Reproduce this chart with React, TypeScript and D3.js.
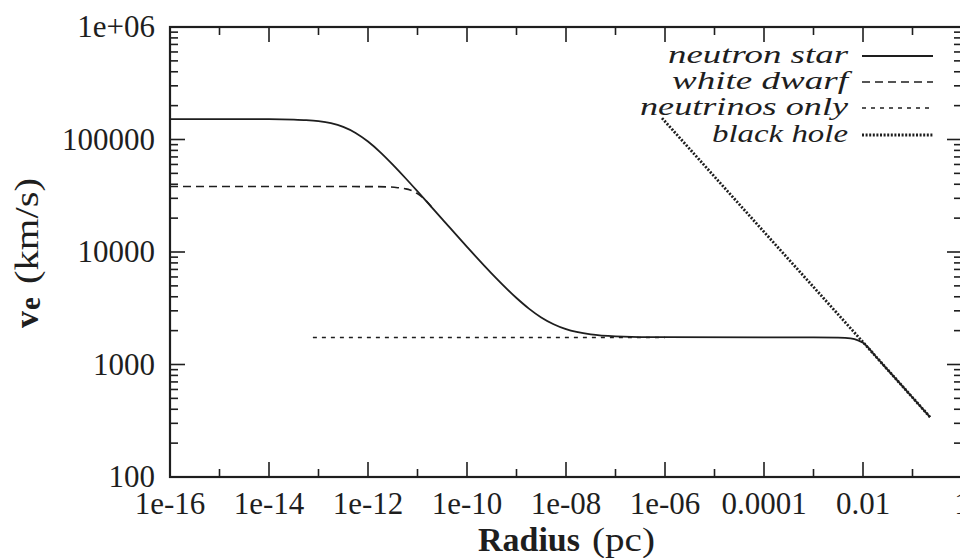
import React from "react";
import * as d3 from "d3";

// ---- data ----
const nsRadius = [1e-16, 1e-14, 3.16e-14, 5.62e-14, 1e-13, 1.78e-13, 3.16e-13, 5.62e-13, 1e-12, 1.78e-12, 3.16e-12, 5.62e-12, 1e-11, 3.16e-11, 1e-10, 3.16e-10, 1e-9, 1.78e-9, 3.16e-9, 5.62e-9, 1e-8, 3.16e-8, 1e-7, 1e-6, 1e-4, 1e-3, 3.16e-3, 5.62e-3, 7.94e-3, 1e-2, 1.78e-2, 3.16e-2, 0.1, 0.226];
const nsVe = [152000, 151700, 150500, 148900, 145700, 139700, 129500, 114400, 95900, 76900, 59800, 45700, 34600, 19600, 11100, 6430, 3900, 3140, 2620, 2280, 2060, 1850, 1780, 1748, 1745, 1745, 1735, 1705, 1640, 1560, 1190, 896, 509, 341];

const wdRadius = [1e-16, 1e-12, 2.5e-12, 3.98e-12, 5.62e-12, 7.08e-12, 8.91e-12, 1.12e-11, 1.41e-11, 2e-11];
const wdVe = [38200, 38150, 37900, 37300, 36500, 35600, 33900, 31900, 29300, 24600];

const nuRadius = [7.7e-14, 1e-10, 1e-6];
const nuVe = [1740, 1740, 1740];

const bhRadius = [8.7e-7, 1e-4, 1e-2, 0.226];
const bhVe = [155000, 15100, 1580, 341];

const xTickExps = [-16, -15, -14, -13, -12, -11, -10, -9, -8, -7, -6, -5, -4, -3, -2, -1, 0];
const xTickLabels = ["1e-16", "1e-14", "1e-12", "1e-10", "1e-08", "1e-06", "0.0001", "0.01", "1"];
const yTickValues = [100, 1000, 10000, 100000, 1000000];
const yTickLabels = ["100", "1000", "10000", "100000", "1e+06"];

const legendNames = ["neutron star", "white dwarf", "neutrinos only", "black hole"];
const legendWidths = [180, 176, 208, 136];

const INK = "#1e1e1e";
const SERIF = "'Liberation Serif', 'DejaVu Serif', serif";

export default function App() {
  const left = 170, right = 962, top = 27, bottom = 477;
  const x = d3.scaleLog().domain([1e-16, 1]).range([left, right]);
  const y = d3.scaleLog().domain([100, 1e6]).range([bottom, top]);

  const mk = (rs: number[], vs: number[]) =>
    d3.line<number>().x((_, i) => x(rs[i])).y((_, i) => y(vs[i])).curve(d3.curveMonotoneX)(rs.map((_, i) => i)) || "";

  const xTicks = xTickExps.map((e) => ({ v: Math.pow(10, e), major: e % 2 === 0 }));
  const yMinor: number[] = [];
  for (let dec = 100; dec < 1e6; dec *= 10) for (let k = 2; k <= 9; k++) yMinor.push(dec * k);

  const seriesStyles = [
    { dash: undefined as string | undefined, w: 1.8 },
    { dash: "8,5", w: 1.6 },
    { dash: "4,5", w: 1.6 },
    { dash: "2,1.6", w: 2.8 },
  ];
  const legendY = [56, 82, 108, 135];

  return (
    <svg width={960} height={558} style={{ position: "absolute", left: 0, top: 0, background: "#fff" }}>
      <rect x={0} y={0} width={960} height={558} fill="#fff" />
      {/* ticks */}
      <g stroke={INK} strokeWidth={1.6}>
        {xTicks.map((t, i) => {
          const len = t.major ? 15 : 8;
          const xx = x(t.v);
          return (
            <g key={"xt" + i}>
              <line x1={xx} x2={xx} y1={bottom} y2={bottom - len} />
              <line x1={xx} x2={xx} y1={top} y2={top + len} />
            </g>
          );
        })}
        {yTickValues.map((v, i) => (
          <g key={"yt" + i}>
            <line x1={left} x2={left + 15} y1={y(v)} y2={y(v)} />
            <line x1={right} x2={right - 15} y1={y(v)} y2={y(v)} />
          </g>
        ))}
        {yMinor.map((v, i) => (
          <g key={"ym" + i}>
            <line x1={left} x2={left + 8} y1={y(v)} y2={y(v)} />
            <line x1={right} x2={right - 8} y1={y(v)} y2={y(v)} />
          </g>
        ))}
      </g>
      {/* frame */}
      <rect x={left} y={top} width={right - left} height={bottom - top} fill="none" stroke={INK} strokeWidth={2.2} />

      {/* tick labels */}
      <g fontFamily={SERIF} fontSize={31} fill={INK}>
        {xTickLabels.map((s, i) => (
          <text key={"xl" + i} x={x(Math.pow(10, -16 + 2 * i))} y={514} textAnchor="middle">{s}</text>
        ))}
        {yTickLabels.map((s, i) => (
          <text key={"yl" + i} x={155} y={y(yTickValues[i]) + 10} textAnchor="end">{s}</text>
        ))}
      </g>

      {/* axis titles */}
      <g fontFamily={SERIF} fill={INK}>
        <text x={478} y={551} fontSize={34} fontWeight="bold" textLength={102} lengthAdjust="spacingAndGlyphs">Radius</text>
        <text x={592} y={551} fontSize={34} textLength={63} lengthAdjust="spacingAndGlyphs">(pc)</text>
        <g transform="rotate(-90)">
          <text x={-328} y={38} fontSize={34} fontWeight="bold">v</text>
          <text x={-310} y={40} fontSize={29} fontWeight="bold">e</text>
          <text x={-284} y={38} fontSize={34} textLength={106} lengthAdjust="spacingAndGlyphs">(km/s)</text>
        </g>
      </g>

      {/* series */}
      <g fill="none" stroke={INK} strokeLinecap="butt">
        <path d={mk(nsRadius, nsVe)} strokeWidth={seriesStyles[0].w} />
        <path d={mk(wdRadius, wdVe)} strokeWidth={seriesStyles[1].w} strokeDasharray={seriesStyles[1].dash} />
        <path d={mk(nuRadius, nuVe)} strokeWidth={seriesStyles[2].w} strokeDasharray={seriesStyles[2].dash} />
        <path d={mk(bhRadius, bhVe)} strokeWidth={seriesStyles[3].w} strokeDasharray={seriesStyles[3].dash} />
      </g>

      {/* legend */}
      <g fontFamily={SERIF} fontStyle="italic" fontSize={25} fill={INK}>
        {legendNames.map((n, i) => (
          <g key={"lg" + i}>
            <text x={848 - legendWidths[i]} y={legendY[i] + 7} textLength={legendWidths[i]} lengthAdjust="spacingAndGlyphs">{n}</text>
            <line x1={862} x2={933} y1={legendY[i]} y2={legendY[i]} stroke={INK}
              strokeWidth={seriesStyles[i].w} strokeDasharray={seriesStyles[i].dash} />
          </g>
        ))}
      </g>
    </svg>
  );
}
